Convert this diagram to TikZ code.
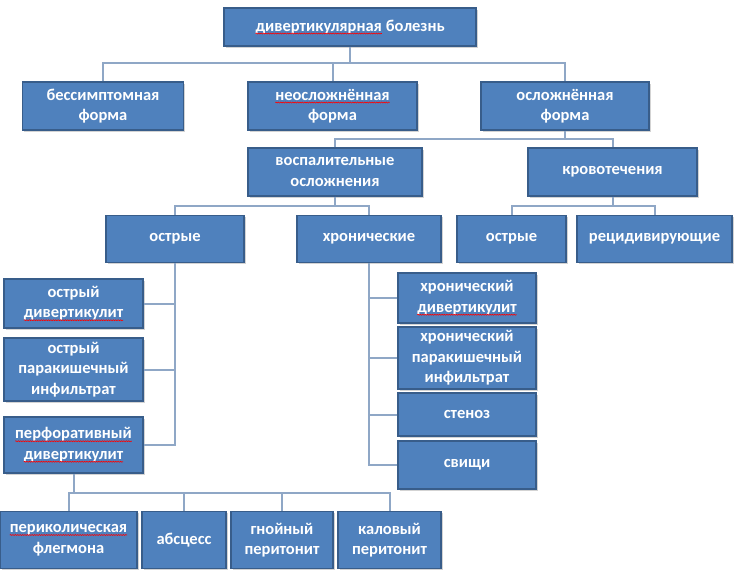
\documentclass[tikz,border=0pt]{standalone}
\usepackage{fontspec}
\setmainfont{Carlito}
\usepackage{xcolor}
\usepackage{tikz}
\usetikzlibrary{positioning,calc,shadows,decorations.pathmorphing}

\definecolor{boxblue}{HTML}{4F81BD}
\definecolor{boxedge}{HTML}{385D8A}
\definecolor{linkgray}{HTML}{8FA7C6}

\tikzset{
    box/.style={draw=boxedge, line width=1.2pt, fill=boxblue, text=white, align=center, inner sep=1pt,
        font=\bfseries\fontsize{16.5}{20.5}\selectfont,
        drop shadow={shadow xshift=1.5pt, shadow yshift=-1.5pt, opacity=.35}},
    sz/.style 2 args={minimum width=#1pt, minimum height=#2pt},
    link/.style={draw=linkgray, line width=2pt},
    spell/.style={draw=red, line width=.6pt, decorate, decoration={snake, amplitude=.5pt, segment length=2.4pt}}
}
% red spell-check squiggle under a word
\newcommand{\squig}[1]{\tikz[baseline=(sq.base)]{\node[inner sep=0pt, outer sep=0pt, minimum width=0pt, minimum height=0pt, draw=none, fill=none] (sq) {#1};
    \path[spell] ([yshift=-2.5pt]sq.base west) -- ([yshift=-2.5pt]sq.base east);}}

\begin{document}
\begin{tikzpicture}[x=1pt, y=-1pt]
    \useasboundingbox (0,0) rectangle (737,574);

    % Top
    \node[box, sz={252}{38}] (root) at (350,27) {\squig{дивертикулярная} болезнь};

    % Forms
    \node[box, sz={161}{48}] (bess) at (103,106) {бессимптомная\\форма};
    \node[box, sz={169}{48}] (neosl) at (332.5,106) {\squig{неосложнённая}\\форма};
    \node[box, sz={168}{48}] (osl) at (565,106) {осложнённая\\форма};

    % Complications
    \node[box, sz={174}{48}] (vosp) at (335,172) {воспалительные\\осложнения};
    \node[box, sz={169}{48}] (krov) at (612.5,172) {кровотечения};

    % Course
    \node[box, sz={138}{47}] (ostr) at (175,239) {острые};
    \node[box, sz={144}{47}] (hron) at (369,239) {хронические};
    \node[box, sz={109}{47}] (ostrk) at (511.5,239) {острые};
    \node[box, sz={155}{47}] (recid) at (654.5,239) {рецидивирующие};

    % Acute forms
    \node[box, sz={139}{49}] (odiv) at (73.5,303.5) {острый\\\squig{дивертикулит}};
    \node[box, sz={139}{63}] (oinf) at (73.5,369.5) {острый\\паракишечный\\инфильтрат};
    \node[box, sz={139}{56}] (perf) at (73.5,445) {\squig{перфоративный}\\\squig{дивертикулит}};

    % Chronic forms
    \node[box, sz={138}{50}] (hdiv) at (467,298) {хронический\\\squig{дивертикулит}};
    \node[box, sz={138}{62}] (hinf) at (467,358) {хронический\\паракишечный\\инфильтрат};
    \node[box, sz={138}{43}] (sten) at (467,414.5) {стеноз};
    \node[box, sz={138}{48}] (svis) at (467,465) {свищи};

    % Perforation
    \node[box, sz={137}{57}] (flegm) at (68.5,540) {\squig{периколическая}\\флегмона};
    \node[box, sz={84}{57}] (absc) at (184,540) {абсцесс};
    \node[box, sz={102}{57}] (gnoi) at (282,540) {гнойный\\перитонит};
    \node[box, sz={103}{57}] (kal) at (389.5,540) {каловый\\перитонит};

    % Bus levels
    \coordinate (b1) at (0,63);
    \coordinate (b2) at (0,139);
    \coordinate (b3) at (0,206);
    \coordinate (b4) at (0,493);

    % Level 1
    \draw[link] (root.south) -- (root.south |- b1);
    \draw[link] (bess.north) -- (bess.north |- b1) -- (osl.north |- b1) -- (osl.north);
    \draw[link] (neosl.north |- b1) -- (neosl.north);

    % Level 2
    \draw[link] (osl.south) -- (osl.south |- b2);
    \draw[link] (vosp.north) -- (vosp.north |- b2) -- (krov.north |- b2) -- (krov.north);

    % Level 3
    \draw[link] (vosp.south) -- (vosp.south |- b3);
    \draw[link] (ostr.north) -- (ostr.north |- b3) -- (hron.north |- b3) -- (hron.north);
    \draw[link] (krov.south) -- (krov.south |- b3);
    \draw[link] (ostrk.north) -- (ostrk.north |- b3) -- (recid.north |- b3) -- (recid.north);

    % Acute column
    \draw[link] (ostr.south) |- (perf.east);
    \draw[link] (odiv.east) -- (odiv.east -| ostr.south);
    \draw[link] (oinf.east) -- (oinf.east -| ostr.south);

    % Chronic column
    \draw[link] (hron.south) |- (svis.west);
    \draw[link] (hdiv.west) -- (hdiv.west -| hron.south);
    \draw[link] (hinf.west) -- (hinf.west -| hron.south);
    \draw[link] (sten.west) -- (sten.west -| hron.south);

    % Perforation row
    \draw[link] (perf.south) -- (perf.south |- b4);
    \draw[link] (flegm.north) -- (flegm.north |- b4) -- (kal.north |- b4) -- (kal.north);
    \draw[link] (absc.north |- b4) -- (absc.north);
    \draw[link] (gnoi.north |- b4) -- (gnoi.north);

\end{tikzpicture}
\end{document}
